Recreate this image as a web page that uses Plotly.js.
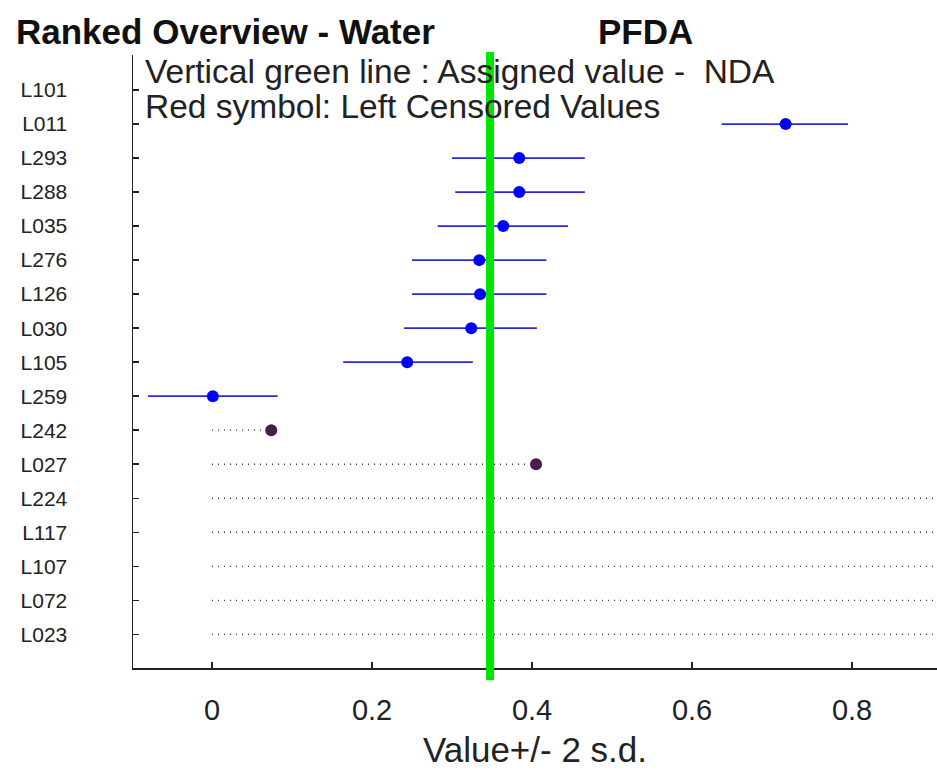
<!DOCTYPE html>
<html>
<head>
<meta charset="utf-8">
<script src="https://cdn.plot.ly/plotly-3.0.1.min.js"></script>
<style>html,body{margin:0;padding:0;background:#fff;}#chart{width:937px;height:772px;}</style>
</head>
<body>
<div id="chart"></div>
<script>
// Labs, top to bottom
const labs = ['L101','L011','L293','L288','L035','L276','L126','L030','L105','L259','L242','L027','L224','L117','L107','L072','L023'];
// Reported values (blue symbols) with 2 s.d. half-widths
const valLabs = ['L011','L293','L288','L035','L276','L126','L030','L105','L259'];
const values  = [0.717, 0.384, 0.384, 0.364, 0.334, 0.335, 0.324, 0.244, 0.001];
const sd2Minus = [0.080, 0.084, 0.080, 0.082, 0.084, 0.085, 0.084, 0.080, 0.081];
const sd2Plus  = [0.078, 0.082, 0.082, 0.081, 0.084, 0.083, 0.082, 0.082, 0.081];
// Left-censored values (red symbols, dotted from zero)
const censLabs = ['L242','L027','L224','L117','L107','L072','L023'];
const censVals = [0.074, 0.405, 1.0, 1.0, 1.0, 1.0, 1.0];
// Assigned value
const assigned = 0.3475;
const xTicks = [0, 0.2, 0.4, 0.6, 0.8];

const dotX = [], dotY = [];
censLabs.forEach((l, i) => { dotX.push(0, censVals[i], null); dotY.push(l, l, null); });

const font = 'Liberation Sans, Arial, sans-serif';

const traces = [
  {type:'scatter', mode:'lines', x:dotX, y:dotY, line:{color:'#333', width:1.3, dash:'1px,5px'}, hoverinfo:'skip', showlegend:false},
  {type:'scatter', mode:'markers', x:censVals, y:censLabs, marker:{color:'#4a1c4a', size:12}, showlegend:false},
  {type:'scatter', mode:'markers', x:values, y:valLabs,
   error_x:{type:'data', symmetric:false, array:sd2Plus, arrayminus:sd2Minus, color:'#2a2ad8', thickness:1.7, width:0},
   marker:{color:'#0000ff', size:12}, showlegend:false}
];

const layout = {
  width:937, height:772,
  margin:{l:133, r:0, t:55, b:104},
  paper_bgcolor:'#fff', plot_bgcolor:'#fff',
  font:{family:font, color:'#000'},
  showlegend:false,
  xaxis:{
    range:[-0.0988, 0.9062], tickvals:xTicks, ticktext:xTicks.map(String),
    ticks:'inside', ticklen:6, tickwidth:1.5, tickcolor:'#222',
    showline:true, linecolor:'#222', linewidth:1.5, mirror:false,
    showgrid:false, zeroline:false,
    tickfont:{size:29, color:'#222', family:font},
    ticklabelstandoff:16,
    title:{text:'Value+/- 2 s.d.', font:{size:35, color:'#222', family:font}, standoff:12},
    automargin:false
  },
  yaxis:{
    type:'category', categoryorder:'array', categoryarray:labs,
    range:[16.99, -1.03],
    tickvals:labs, ticktext:labs,
    ticks:'inside', ticklen:6, tickwidth:1.5, tickcolor:'#222',
    showline:true, linecolor:'#222', linewidth:1.5,
    showgrid:false, zeroline:false,
    tickfont:{size:21, color:'#222', family:font},
    ticklabelstandoff:60,
    automargin:false
  },
  shapes:[
    {type:'line', xref:'x', yref:'paper', x0:assigned, x1:assigned, y0:-0.02, y1:1.005,
     line:{color:'#00e600', width:8}, layer:'above'}
  ],
  annotations:[
    {xref:'paper', yref:'paper', x:-0.148, y:1.039, xanchor:'left', yanchor:'middle', showarrow:false,
     text:'<b>Ranked Overview - Water</b>', font:{size:35, color:'#111', family:font}},
    {xref:'paper', yref:'paper', x:0.576, y:1.039, xanchor:'left', yanchor:'middle', showarrow:false,
     text:'<b>PFDA</b>', font:{size:35, color:'#111', family:font}},
    {xref:'paper', yref:'paper', x:0.012, y:0.973, xanchor:'left', yanchor:'middle', showarrow:false,
     text:'Vertical green line : Assigned value - \u00a0NDA', font:{size:33.5, color:'#222', family:font}},
    {xref:'paper', yref:'paper', x:0.012, y:0.916, xanchor:'left', yanchor:'middle', showarrow:false,
     text:'Red symbol: Left Censored Values', font:{size:33.5, color:'#222', family:font}}
  ]
};

Plotly.newPlot('chart', traces, layout, {displayModeBar:false, staticPlot:true});
</script>
</body>
</html>
